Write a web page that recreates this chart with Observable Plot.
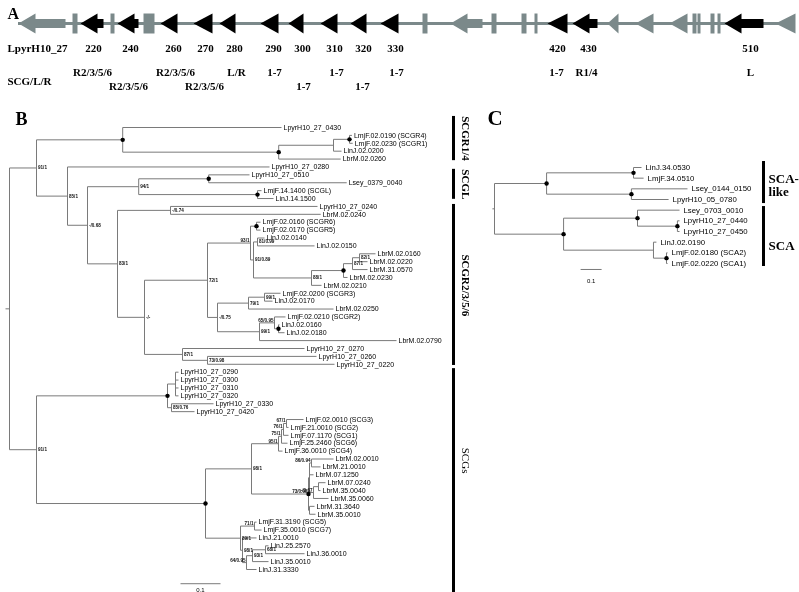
<!DOCTYPE html>
<html><head><meta charset="utf-8">
<script src="https://cdn.jsdelivr.net/npm/d3@7"></script>
<script src="https://cdn.jsdelivr.net/npm/@observablehq/plot@0.6"></script>
<style>
body{margin:0;background:#fff;}
#fig{position:relative;width:799px;height:592px;overflow:hidden;background:#fff;}
#fig svg{position:absolute;left:0;top:0;will-change:transform;-webkit-font-smoothing:antialiased;}
</style></head><body><div id="fig"></div>
<script>
// ================= DATA =================
// Panel A: locus LpyrH10_27 (positions along the locus, arbitrary units), all genes on the reverse strand
const locusExtent = [18, 795];
const locusGenes = [ // [start, end, family, shape]
  [18, 65, "other", "arrow"], [72, 77, "other", "block"], [80, 103, "scg", "arrow"],
  [110, 114, "other", "block"], [117, 138, "scg", "arrow"], [143, 154, "other", "block"],
  [160, 177, "scg", "arrow"], [193, 212, "scg", "arrow"], [219, 235, "scg", "arrow"],
  [260, 278, "scg", "arrow"], [288, 303, "scg", "arrow"], [320, 337, "scg", "arrow"],
  [350, 366, "scg", "arrow"], [380, 398, "scg", "arrow"], [422, 427, "other", "block"],
  [450, 482, "other", "arrow"], [491, 496, "other", "block"], [521, 526, "other", "block"],
  [534, 537, "other", "block"], [547, 567, "scg", "arrow"], [572, 597, "scg", "arrow"],
  [607, 618, "other", "arrow"], [635, 653, "other", "arrow"], [669, 687, "other", "arrow"],
  [692, 696, "other", "block"], [697, 700, "other", "block"], [710, 714, "other", "block"],
  [717, 720, "other", "block"], [724, 763, "scg", "arrow"], [775, 795, "other", "arrow"]
];
const locusName = ["LpyrH10_27", 7];
const geneNumbers = [["220",93],["240",130],["260",173],["270",205],["280",234],["290",273],
  ["300",302],["310",334],["320",363],["330",395],["420",557],["430",588],["510",750]];
const rowName = ["SCG/L/R", 7];
const geneClasses = [ // [label, position, row 0 = upper / 1 = lower]
  ["R2/3/5/6",92,0],["R2/3/5/6",128,1],["R2/3/5/6",175,0],["R2/3/5/6",204,1],["L/R",236,0],
  ["1-7",274,0],["1-7",303,1],["1-7",336,0],["1-7",362,1],["1-7",396,0],["1-7",556,0],
  ["R1/4",586,0],["L",750,0]];

// Panel B tree: leaf = [name, depth]; node = [support, depth, children, filledDot]
// depth = distance from the root (substitutions/site); support prefixed "<" sits on the incoming branch
const cladeSCGR14 = ["", 0.283, [
  ["LpyrH10_27_0430", 0.68],
  ["", 0.673, [
    ["", 0.81, [
      ["", 0.85, [["LmjF.02.0190 (SCGR4)", 0.856], ["LmjF.02.0230 (SCGR1)", 0.858]], true],
      ["LinJ.02.0200", 0.83]]],
    ["LbrM.02.0260", 0.828]], true]
], true];
const cladeSCGL = ["94/1", 0.323, [
  ["", 0.498, [["LpyrH10_27_0510", 0.6], ["Lsey_0379_0040", 0.843]], true],
  ["", 0.62, [["LmjF.14.1400 (SCGL)", 0.63], ["LinJ.14.1500", 0.66]], true]
]];
const cladeSCGR2356 = ["83/1", 0.27, [
  ["-/0.74", 0.4025, [["LpyrH10_27_0240", 0.77], ["LbrM.02.0240", 0.778]]],
  ["-/-", 0.3375, [
    ["72/1", 0.495, [
      ["<93/1", 0.6025, [
        ["", 0.6175, [["LmjF.02.0160 (SCGR6)", 0.6275], ["LmjF.02.0170 (SCGR5)", 0.6275]], true],
        ["91/0.89", 0.61, [
          ["81/0.99", 0.62, [["LinJ.02.0140", 0.6375], ["LinJ.02.0150", 0.7625]]],
          ["88/1", 0.755, [
            ["", 0.835, [
              ["87/1", 0.8575, [
                ["82/1", 0.875, [["LbrM.02.0160", 0.915], ["LbrM.02.0220", 0.895]]],
                ["LbrM.31.0570", 0.895]]],
              ["LbrM.02.0230", 0.845]], true],
            ["LbrM.02.0210", 0.78]]]]]]],
      ["-/0.75", 0.52, [
        ["79/1", 0.5975, [
          ["99/1", 0.6375, [["LmjF.02.0200 (SCGR3)", 0.6775], ["LinJ.02.0170", 0.6575]]],
          ["LbrM.02.0250", 0.81]]],
        ["99/1", 0.625, [
          ["<65/0.95", 0.6625, [
            ["LmjF.02.0210 (SCGR2)", 0.69],
            ["", 0.6725, [["LinJ.02.0160", 0.675], ["LinJ.02.0180", 0.6875]], true]]],
          ["LbrM.02.0790", 0.9675]]]]]]],
    ["87/1", 0.4325, [
      ["LpyrH10_27_0270", 0.7375],
      ["73/0.98", 0.495, [["LpyrH10_27_0260", 0.7675], ["LpyrH10_27_0220", 0.8125]]]]]
  ]]
]];
const cladeLpyrSCG = ["", 0.395, [
  ["", 0.415, [["LpyrH10_27_0290", 0.4225], ["LpyrH10_27_0300", 0.4225],
               ["LpyrH10_27_0310", 0.4225], ["LpyrH10_27_0320", 0.4225]]],
  ["85/0.76", 0.405, [["LpyrH10_27_0330", 0.51], ["LpyrH10_27_0420", 0.4625]]]
], true];
const cladeSCG = ["", 0.49, [
  ["98/1", 0.605, [
    ["<95/1", 0.6725, [
      ["<75/1", 0.68, [
        ["<76/1", 0.685, [
          ["<67/1", 0.6925, [["LmjF.02.0010 (SCG3)", 0.735], ["LmjF.21.0010 (SCG2)", 0.6975]]],
          ["LmjF.07.1170 (SCG1)", 0.6975]]],
        ["LmjF.25.2460 (SCG6)", 0.695]]],
      ["LmjF.36.0010 (SCG4)", 0.6825]]],
    ["<73/0.98", 0.7475, [
      ["", 0.75, [
        ["<86/0.94", 0.755, [["LbrM.02.0010", 0.81], ["LbrM.21.0010", 0.7775]]],
        ["LbrM.07.1250", 0.76],
        ["<-/0.67", 0.76, [
          ["", 0.7725, [["LbrM.07.0240", 0.79], ["LbrM.35.0040", 0.7775]]],
          ["LbrM.35.0060", 0.7975]]]]],
      ["", 0.75, [["LbrM.31.3640", 0.7625], ["LbrM.35.0010", 0.765]]]
    ], true]]],
  ["89/1", 0.5775, [
    ["<71/1", 0.6125, [["LmjF.31.3190 (SCG5)", 0.6175], ["LmjF.35.0010 (SCG7)", 0.63]]],
    ["98/1", 0.5825, [
      ["LinJ.21.0010", 0.6175],
      ["<64/0.95", 0.5925, [
        ["93/1", 0.6075, [
          ["68/1", 0.64, [["LinJ.25.2570", 0.6475], ["LinJ.36.0010", 0.7375]]],
          ["LinJ.35.0010", 0.6475]]],
        ["LinJ.31.3330", 0.6175]]]]]]]
], true];
const treeB = ["", 0, [
  ["91/1", 0.0675, [cladeSCGR14, ["85/1", 0.145, [["LpyrH10_27_0280", 0.65], ["-/0.68", 0.195, [cladeSCGL, cladeSCGR2356]]]]]],
  ["91/1", 0.0675, [cladeLpyrSCG, cladeSCG]]
]];
// brackets: [label, from leaf row, to leaf row, label row, bold]
const bracketsB = [["SCGR1/4", -1.4, 4.2, 1.4, true], ["SCGL", 5.3, 9.1, 7.2, true],
  ["SCGR2/3/5/6", 9.75, 30.15, 20, true], ["SCGs", 30.55, 59, 42.2, false]];
const scaleBarB = {from: 0.4275, len: 0.1, row: 57.8, label: "0.1"};

// Panel C tree
const treeC = ["", 0, [
  ["", 0.248, [
    ["", 0.662, [["LinJ.34.0530", 0.70], ["LmjF.34.0510", 0.71]], true],
    ["", 0.652, [["Lsey_0144_0150", 0.919], ["LpyrH10_05_0780", 0.829]], true]
  ], true],
  ["", 0.329, [
    ["", 0.681, [
      ["Lsey_0703_0010", 0.881],
      ["", 0.871, [["LpyrH10_27_0440", 0.881], ["LpyrH10_27_0450", 0.881]], true]], true],
    ["", 0.757, [
      ["LinJ.02.0190", 0.771],
      ["", 0.819, [["LmjF.02.0180 (SCA2)", 0.824], ["LmjF.02.0220 (SCA1)", 0.824]], true]]]
  ], true]
]];
const bracketsC = [["SCA-like", -0.56, 3.38], ["SCA", 3.66, 9.28]];
const bracketLabelsC = [["SCA-", 1.03], ["like", 2.25], ["SCA", 7.3]];
const scaleBarC = {from: 0.41, len: 0.1, row: 9.56, label: "0.1"};

// ================= DRAWING =================
const SANS = "Liberation Sans, Arial, sans-serif";
const SERIF = "Liberation Serif, Times New Roman, serif";
const GENE_GRAY = "#7b898a";
const LINE_GRAY = "#7a7a7a";
const HEAD = 17, SHAFT = 0.45;
const transparent = {background: "transparent", overflow: "visible"};

function layoutTree(tree) {
  const links = [], leaves = [], nodes = [];
  let i = 0;
  function walk(node, parentDepth) {
    const [rawLabel, depth, kids, dot] = node;
    let y;
    if (Array.isArray(kids)) {
      const ys = kids.map(k => walk(k, depth));
      y = (ys[0] + ys[ys.length - 1]) / 2;
      links.push({x1: depth, x2: depth, y1: ys[0], y2: ys[ys.length - 1]});
      const onBranch = rawLabel.startsWith("<");
      nodes.push({label: onBranch ? rawLabel.slice(1) : rawLabel, onBranch, depth, y, dot: !!dot});
    } else {
      y = i++;
      leaves.push({label: rawLabel, depth, y});
    }
    if (parentDepth != null) links.push({x1: parentDepth, x2: depth, y1: y, y2: y});
    return y;
  }
  const rootY = walk(tree, null);
  links.push({x1: -0.01, x2: 0, y1: rootY, y2: rootY});
  return {links, leaves, nodes, n: i};
}

function genePolygons(genes) {
  const pts = [];
  genes.forEach(([s, e, fam, shape], id) => {
    let p;
    if (shape === "block") p = [[s, -1], [e, -1], [e, 1], [s, 1]];
    else if (e - s <= 20) p = [[s, 0], [e, 1], [e, -1]];
    else { const h = s + HEAD; p = [[s, 0], [h, 1], [h, SHAFT], [e, SHAFT], [e, -SHAFT], [h, -SHAFT], [h, -1]]; }
    p.forEach(([x, y]) => pts.push({id, fam, x, y}));
  });
  return pts;
}

const fig = document.getElementById("fig");

// ---- Panel A ----
const polys = genePolygons(locusGenes);
const plotA = Plot.plot({
  width: 799, height: 592, margin: 0, style: transparent,
  x: {domain: [0, 799], range: [0, 799], axis: null},
  y: {domain: [-1, 1], range: [33, 13], axis: null},
  marks: [
    Plot.ruleY([0], {x1: () => locusExtent[0], x2: () => locusExtent[1], stroke: GENE_GRAY, strokeWidth: 3}),
    Plot.line(polys.filter(d => d.fam === "other"), {x: "x", y: "y", z: "id", fill: GENE_GRAY, stroke: "none"}),
    Plot.line(polys.filter(d => d.fam === "scg"), {x: "x", y: "y", z: "id", fill: "black", stroke: "none"}),
    Plot.text([locusName], {x: d => d[1], y: () => -2.5, text: d => d[0], textAnchor: "start",
      fontFamily: SERIF, fontWeight: "bold", fontSize: 11, fill: "black"}),
    Plot.text(geneNumbers, {x: d => d[1], y: () => -2.5, text: d => d[0],
      fontFamily: SERIF, fontWeight: "bold", fontSize: 11, fill: "black"}),
    Plot.text([rowName], {x: d => d[1], y: () => -5.8, text: d => d[0], textAnchor: "start",
      fontFamily: SERIF, fontWeight: "bold", fontSize: 11, fill: "black"}),
    Plot.text(geneClasses, {x: d => d[1], y: d => d[2] ? -6.3 : -4.9, text: d => d[0],
      fontFamily: SERIF, fontWeight: "bold", fontSize: 11, fill: "black"}),
    Plot.text(["A"], {frameAnchor: "top-left", dx: 7, dy: 18, lineAnchor: "bottom", textAnchor: "start",
      fontFamily: SERIF, fontWeight: "bold", fontSize: 16, fill: "black"})
  ]
});
fig.appendChild(plotA);

// ---- Panel B ----
const B = layoutTree(treeB);
const supportStyle = {fontFamily: SANS, fontWeight: "bold", fontSize: 4.6, fill: "#111"};
const plotB = Plot.plot({
  width: 799, height: 592, margin: 0, style: transparent,
  x: {domain: [0, 1], range: [9, 409], axis: null},
  y: {domain: [0, B.n - 1], range: [127, 569], axis: null},
  marks: [
    Plot.link(B.links, {x1: "x1", y1: "y1", x2: "x2", y2: "y2", stroke: LINE_GRAY, strokeWidth: 1}),
    Plot.dot(B.nodes.filter(d => d.dot), {x: "depth", y: "y", r: 2.2, fill: "black", stroke: "none"}),
    Plot.text(B.leaves, {x: "depth", y: "y", text: "label", dx: 2, textAnchor: "start",
      fontFamily: SANS, fontSize: 7, fill: "black"}),
    Plot.text(B.nodes.filter(d => d.label && !d.onBranch), {x: "depth", y: "y", text: "label", dx: 1.5,
      textAnchor: "start", ...supportStyle}),
    Plot.text(B.nodes.filter(d => d.label && d.onBranch), {x: "depth", y: "y", text: "label", dx: -1, dy: -2.5,
      textAnchor: "end", ...supportStyle}),
    Plot.ruleX(bracketsB, {x: () => 1.11, y1: d => d[1], y2: d => d[2], stroke: "black", strokeWidth: 3}),
    Plot.text(bracketsB.filter(d => d[4]), {x: () => 1.14, y: d => d[3], text: d => d[0], rotate: 90,
      fontFamily: SERIF, fontWeight: "bold", fontSize: 11, fill: "black"}),
    Plot.text(bracketsB.filter(d => !d[4]), {x: () => 1.14, y: d => d[3], text: d => d[0], rotate: 90,
      fontFamily: SERIF, fontSize: 11, fill: "black"}),
    Plot.link([scaleBarB], {x1: d => d.from, x2: d => d.from + d.len, y1: d => d.row, y2: d => d.row, stroke: LINE_GRAY}),
    Plot.text([scaleBarB], {x: d => d.from + d.len / 2, y: d => d.row, text: d => d.label, dy: 6,
      fontFamily: SANS, fontSize: 6, fill: "black"}),
    Plot.text(["B"], {frameAnchor: "top-left", dx: 15, dy: 124, lineAnchor: "bottom", textAnchor: "start",
      fontFamily: SERIF, fontWeight: "bold", fontSize: 18, fill: "black"})
  ]
});
fig.appendChild(plotB);

// ---- Panel C ----
const C = layoutTree(treeC);
const plotC = Plot.plot({
  width: 799, height: 592, margin: 0, style: transparent,
  x: {domain: [0, 1], range: [494, 704], axis: null},
  y: {domain: [0, C.n - 1], range: [167, 263], axis: null},
  marks: [
    Plot.link(C.links, {x1: "x1", y1: "y1", x2: "x2", y2: "y2", stroke: LINE_GRAY, strokeWidth: 1}),
    Plot.dot(C.nodes.filter(d => d.dot), {x: "depth", y: "y", r: 2.2, fill: "black", stroke: "none"}),
    Plot.text(C.leaves, {x: "depth", y: "y", text: "label", dx: 4, textAnchor: "start",
      fontFamily: SANS, fontSize: 7.8, fill: "black"}),
    Plot.ruleX(bracketsC, {x: () => 1.281, y1: d => d[1], y2: d => d[2], stroke: "black", strokeWidth: 3}),
    Plot.text(bracketLabelsC, {x: () => 1.305, y: d => d[1], text: d => d[0], textAnchor: "start",
      fontFamily: SERIF, fontWeight: "bold", fontSize: 13, fill: "black"}),
    Plot.link([scaleBarC], {x1: d => d.from, x2: d => d.from + d.len, y1: d => d.row, y2: d => d.row, stroke: LINE_GRAY}),
    Plot.text([scaleBarC], {x: d => d.from + d.len / 2, y: d => d.row, text: d => d.label, dy: 12,
      fontFamily: SANS, fontSize: 6, fill: "black"}),
    Plot.text(["C"], {frameAnchor: "top-left", dx: 487, dy: 124, lineAnchor: "bottom", textAnchor: "start",
      fontFamily: SERIF, fontWeight: "bold", fontSize: 21, fill: "black"})
  ]
});
fig.appendChild(plotC);
</script></body></html>
